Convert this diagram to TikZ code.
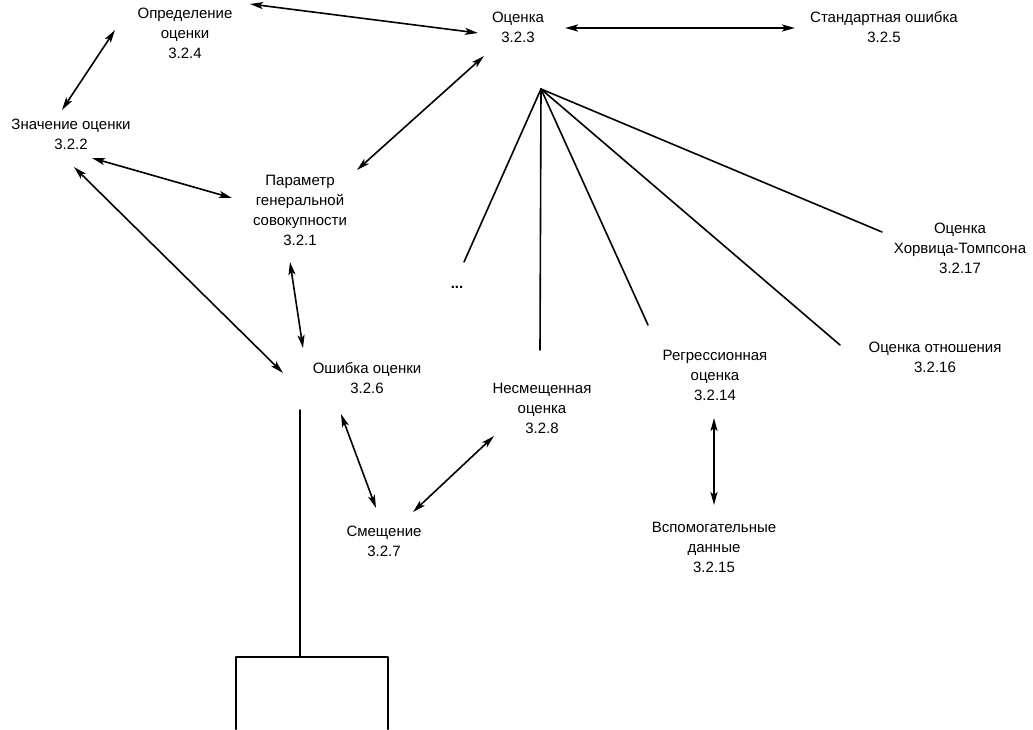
\documentclass[tikz,border=0pt]{standalone}
\usepackage{fontspec}
\setmainfont{Liberation Sans}
\usetikzlibrary{arrows.meta}
\begin{document}
\begin{tikzpicture}[x=1pt, y=-1pt, font=\fontsize{15}{20}\selectfont, line join=round, line cap=round,
	>={Stealth[length=13pt,width=7pt,inset=3pt]},
	term/.style={align=center, inner sep=0pt},
	link/.style={<->, line width=1.6pt},
	ray/.style={line width=1.6pt},
	base/.style={line width=2pt}]
		\useasboundingbox (0,0) rectangle (1033,729);
		\node[term] (def) at (185,33) {Определение\\оценки\\3.2.4};
		\node[term] (est) at (518,27) {Оценка\\3.2.3};
		\node[term] (se) at (884,27) {Стандартная ошибка\\3.2.5};
		\node[term] (val) at (71,134) {Значение оценки\\3.2.2};
		\node[term] (par) at (300,210) {Параметр\\генеральной\\совокупности\\3.2.1};
		\node[term] (err) at (367,378) {Ошибка оценки\\3.2.6};
		\node[term] (unb) at (542,408) {Несмещенная\\оценка\\3.2.8};
		\node[term] (bias) at (384,541) {Смещение\\3.2.7};
		\node[term] (reg) at (715,375) {Регрессионная\\оценка\\3.2.14};
		\node[term] (aux) at (714,547) {Вспомогательные\\данные\\3.2.15};
		\node[term] (ht) at (960,248) {Оценка\\Хорвица-Томпсона\\3.2.17};
		\node[term] (ratio) at (935,357) {Оценка отношения\\3.2.16};
		\node[term] (dots) at (457,287) {\textbf{...}};
		\coordinate (apex) at (541,89);
		% двусторонние связи
		\draw[link] ([shift={(65,-29)}]def.center) -- ([shift={(-40,6)}]est.center);
		\draw[link] ([shift={(-70,-3)}]def.center) -- ([shift={(-9,-24)}]val.center);
		\draw[link, line width=2.2pt] ([shift={(47,1)}]est.center) -- ([shift={(-89,1)}]se.center);
		\draw[link] ([shift={(-34,29)}]est.center) -- ([shift={(57,-40)}]par.center);
		\draw[link] ([shift={(21,24)}]val.center) -- ([shift={(-68,-12)}]par.center);
		\draw[link] ([shift={(3,33)}]val.center) -- ([shift={(-84,-5)}]err.center);
		\draw[link] ([shift={(-10,52)}]par.center) -- ([shift={(-64,-30)}]err.center);
		\draw[link] ([shift={(-26,36)}]err.center) -- ([shift={(-8,-33)}]bias.center);
		\draw[link] ([shift={(-48,28)}]unb.center) -- ([shift={(29,-29)}]bias.center);
		\draw[link, line width=2.2pt] ([shift={(-1,43)}]reg.center) -- ([shift={(0,-42)}]aux.center);
		% виды оценок
		\foreach \t/\dx/\dy in {dots/7/-25, unb/-2/-58, reg/-67/-50, ratio/-95/-12, ht/-78/-16}
			\draw[ray] (apex) -- ([shift={(\dx,\dy)}]\t.center);
		% нижняя ветвь
		\draw[base] ([shift={(-67,32)}]err.center) -- ++(0,247) coordinate (fork);
		\draw[base] (fork) ++(-64,72) -- ++(0,-72) -- ++(152,0) -- ++(0,72);
\end{tikzpicture}
\end{document}
